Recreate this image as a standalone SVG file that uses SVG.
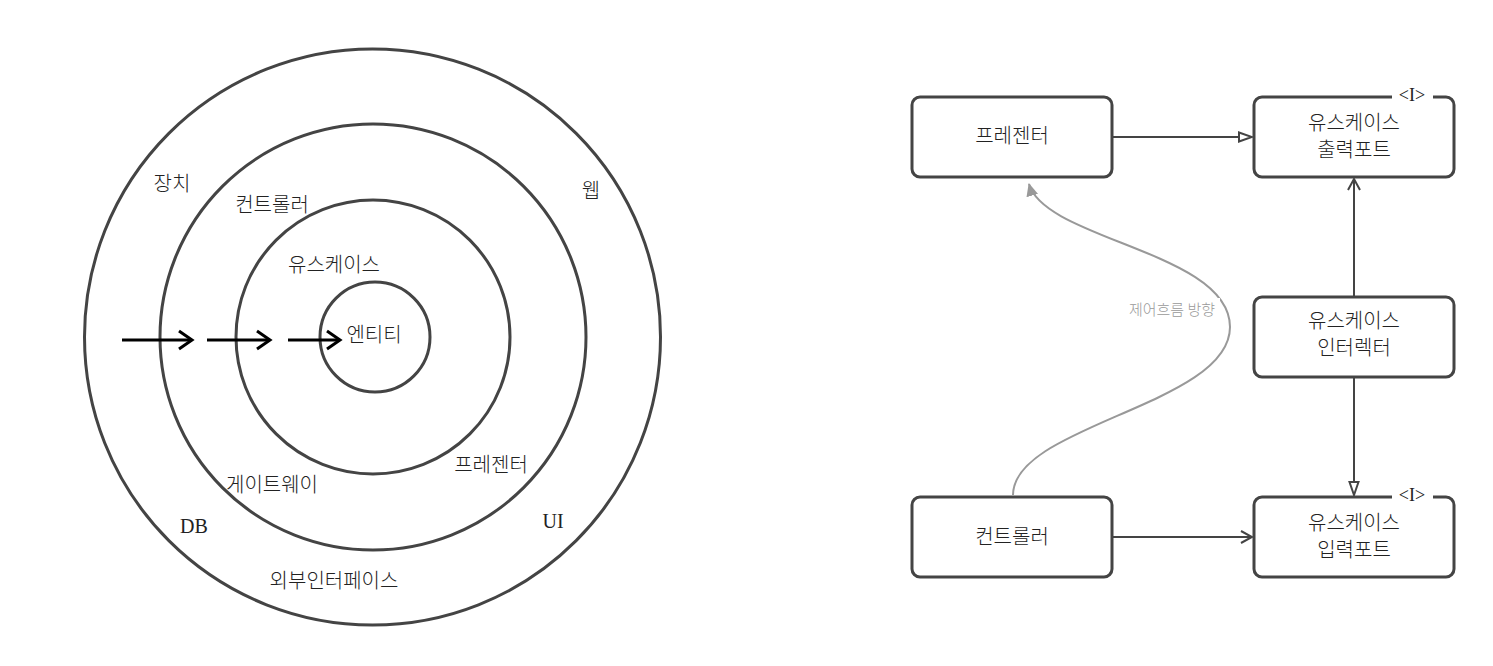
<svg xmlns="http://www.w3.org/2000/svg" width="1493" height="666" viewBox="0 0 1493 666">
<defs>
<style>
.ring{fill:none;stroke:#444;stroke-width:3}
.lbl{font-family:"Liberation Serif","Noto Sans CJK KR",serif;font-size:20px;font-weight:300;fill:#222;text-anchor:middle;dominant-baseline:central}
.box{fill:#fff;stroke:#444;stroke-width:3}
.edge{fill:none;stroke:#444;stroke-width:2}
.blk{fill:none;stroke:#000;stroke-width:3}
.tag{font-family:"Liberation Serif","Noto Sans CJK KR",serif;font-size:18px;fill:#222;text-anchor:middle;dominant-baseline:central}
</style>
<marker id="open" markerWidth="14" markerHeight="14" refX="12" refY="7" orient="auto" markerUnits="userSpaceOnUse"><path d="M1,1 L12,7 L1,13" fill="none" stroke="#444" stroke-width="2"/></marker>
<marker id="tri" markerWidth="16" markerHeight="12" refX="14" refY="6" orient="auto" markerUnits="userSpaceOnUse"><path d="M1,1.5 L14,6 L1,10.5 Z" fill="#fff" stroke="#444" stroke-width="2"/></marker>
<marker id="blkopen" markerWidth="18" markerHeight="22" refX="15" refY="11" orient="auto" markerUnits="userSpaceOnUse"><path d="M2,2 L15,11 L2,20" fill="none" stroke="#000" stroke-width="3"/></marker>
<marker id="gray" markerWidth="14" markerHeight="14" refX="12" refY="7" orient="auto" markerUnits="userSpaceOnUse"><path d="M0,1 L13,7 L0,13 Z" fill="#999"/></marker>
</defs>
<rect width="1493" height="666" fill="#fff"/>
<g id="rings">
<circle class="ring" cx="372.5" cy="337" r="288"/>
<circle class="ring" cx="373" cy="337" r="213"/>
<circle class="ring" cx="373" cy="337" r="137"/>
<circle class="ring" cx="375" cy="337" r="55"/>
</g>
<g id="ring-labels">
<text class="lbl" x="172" y="184">장치</text>
<text class="lbl" x="272" y="205">컨트롤러</text>
<text class="lbl" x="591" y="191">웹</text>
<text class="lbl" x="334" y="265">유스케이스</text>
<text class="lbl" x="374" y="335">엔티티</text>
<text class="lbl" x="491" y="465">프레젠터</text>
<text class="lbl" x="272" y="485">게이트웨이</text>
<text class="lbl" x="194" y="526">DB</text>
<text class="lbl" x="553" y="521">UI</text>
<text class="lbl" x="334" y="581">외부인터페이스</text>
</g>
<g id="ring-arrows">
<line class="blk" x1="122" y1="340" x2="192" y2="340" marker-end="url(#blkopen)"/>
<line class="blk" x1="207" y1="340" x2="270" y2="340" marker-end="url(#blkopen)"/>
<line class="blk" x1="288" y1="340" x2="340" y2="340" marker-end="url(#blkopen)"/>
</g>
<g id="connectors">
<line class="edge" x1="1113" y1="137" x2="1252" y2="137" marker-end="url(#tri)"/>
<line class="edge" x1="1354" y1="296" x2="1354" y2="179" marker-end="url(#open)"/>
<line class="edge" x1="1354" y1="378" x2="1354" y2="495" marker-end="url(#tri)"/>
<line class="edge" x1="1113" y1="537" x2="1252" y2="537" marker-end="url(#open)"/>
<path d="M1013,495 C1013,425 1230,405 1230,327 C1230,252 1045,240 1029,184" fill="none" stroke="#999" stroke-width="2" marker-end="url(#gray)"/>
<rect x="1124" y="298" width="96" height="20" fill="#fff"/>
<text x="1172" y="308" font-family="'Noto Sans CJK KR',sans-serif" font-size="15" font-weight="300" fill="#999" text-anchor="middle" dominant-baseline="central">제어흐름 방향</text>
</g>
<g id="presenter">
<rect class="box" x="912" y="97" width="200" height="80" rx="8"/>
<text class="lbl" x="1012" y="136">프레젠터</text>
</g>
<g id="output-port">
<rect class="box" x="1254" y="97" width="200" height="80" rx="8"/>
<rect x="1392" y="90" width="41" height="14" fill="#fff"/>
<text class="tag" x="1412" y="95">&lt;I&gt;</text>
<text class="lbl" x="1354" y="123">유스케이스</text>
<text class="lbl" x="1354" y="150">출력포트</text>
</g>
<g id="interactor">
<rect class="box" x="1254" y="297" width="200" height="80" rx="8"/>
<text class="lbl" x="1354" y="321">유스케이스</text>
<text class="lbl" x="1354" y="348">인터렉터</text>
</g>
<g id="input-port">
<rect class="box" x="1254" y="497" width="200" height="80" rx="8"/>
<rect x="1392" y="490" width="41" height="14" fill="#fff"/>
<text class="tag" x="1412" y="495">&lt;I&gt;</text>
<text class="lbl" x="1354" y="523">유스케이스</text>
<text class="lbl" x="1354" y="550">입력포트</text>
</g>
<g id="controller">
<rect class="box" x="912" y="497" width="200" height="80" rx="8"/>
<text class="lbl" x="1012" y="537">컨트롤러</text>
</g>
</svg>
